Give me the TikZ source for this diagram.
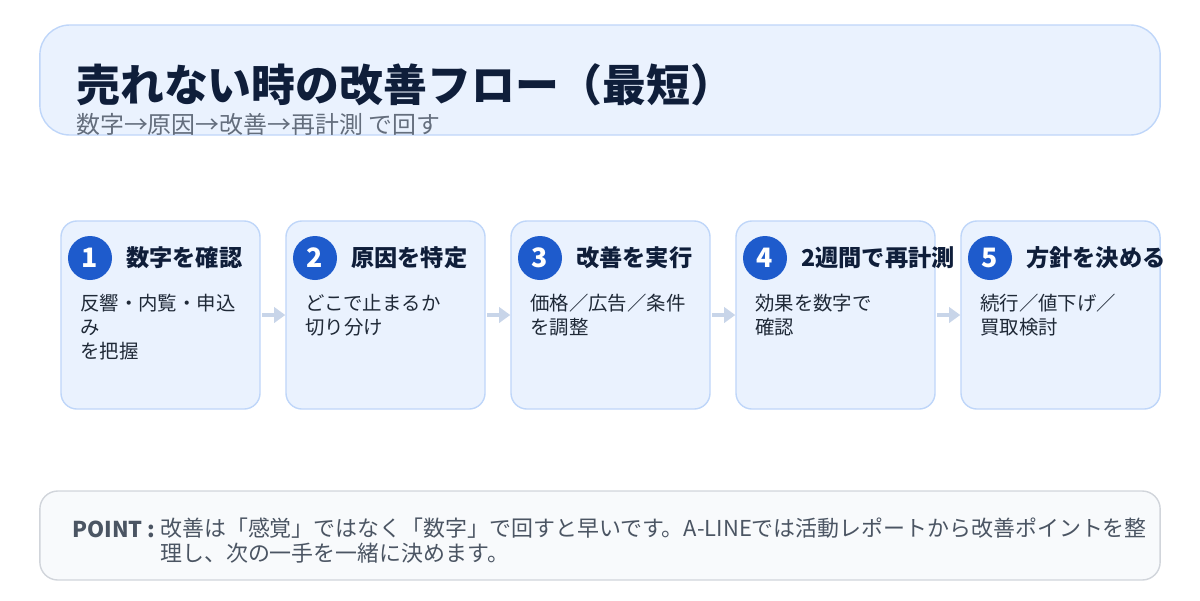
\documentclass[tikz,border=0pt]{standalone}
\usepackage{fontspec}
\setmainfont{Noto Sans CJK JP}
\usetikzlibrary{arrows.meta}

\definecolor{boxfill}{RGB}{234,242,254}
\definecolor{boxline}{RGB}{191,214,249}
\definecolor{dotblue}{RGB}{30,91,204}
\definecolor{navy}{RGB}{15,30,58}
\definecolor{bodytext}{RGB}{31,41,55}
\definecolor{subgray}{RGB}{100,110,125}
\definecolor{arrowgray}{RGB}{200,213,233}
\definecolor{notefill}{RGB}{248,250,252}
\definecolor{noteline}{RGB}{209,213,219}
\definecolor{pointgray}{RGB}{75,85,99}

\begin{document}
\begin{tikzpicture}[x=0.025cm, y=-0.025cm,
  headbox/.style={draw=boxline, fill=boxfill, line width=1pt, rounded corners=0.75cm,
    minimum width=28cm, minimum height=2.75cm},
  stepbox/.style={draw=boxline, fill=boxfill, line width=1pt, rounded corners=0.4cm,
    minimum width=4.975cm, minimum height=4.7cm},
  notebox/.style={draw=noteline, fill=notefill, line width=1pt, rounded corners=0.45cm,
    minimum width=28cm, minimum height=2.225cm},
  numdot/.style={circle, fill=dotblue, minimum size=1.1cm, inner sep=0pt,
    text=white, font=\fontsize{19}{19}\selectfont\bfseries},
  steptitle/.style={anchor=base west, inner sep=0pt, text=navy,
    font=\fontsize{16.5}{20}\selectfont\bfseries},
  stepbody/.style={anchor=north west, inner sep=0pt, align=left, text=bodytext,
    font=\fontsize{13.8}{17}\selectfont},
  flowarrow/.style={draw=arrowgray, line width=3pt,
    -{Triangle[length=8pt, width=11pt]}, shorten <=1pt}]

\useasboundingbox (0,0) rectangle (1200,600);

% header
\node[headbox] (head) at (600,80) {};
\node[anchor=base west, inner sep=0pt, text=navy, font=\fontsize{31.2}{36}\selectfont\bfseries]
  (title) at (76,101) {売れない時の改善フロー（最短）};
\node[anchor=base west, inner sep=0pt, text=subgray, font=\fontsize{17}{20}\selectfont]
  (subtitle) at (76,133) {数字→原因→改善→再計測 で回す};

% steps
\node[stepbox] (s1) at (160.5,315) {};
\node[stepbox] (s2) at (385.5,315) {};
\node[stepbox] (s3) at (610.5,315) {};
\node[stepbox] (s4) at (835.5,315) {};
\node[stepbox] (s5) at (1060.5,315) {};

\node[numdot] (n1) at (90,258) {\raisebox{-2pt}{1}};
\node[numdot] (n2) at (315,258) {\raisebox{-2pt}{2}};
\node[numdot] (n3) at (540,258) {\raisebox{-2pt}{3}};
\node[numdot] (n4) at (765,258) {\raisebox{-2pt}{4}};
\node[numdot] (n5) at (990,258) {\raisebox{-2pt}{5}};

\node[steptitle] (t1) at (126,266) {数字を確認};
\node[steptitle] (t2) at (351,266) {原因を特定};
\node[steptitle] (t3) at (576,266) {改善を実行};
\node[steptitle] (t4) at (801,266) {2週間で再計測};
\node[steptitle] (t5) at (1026,266) {方針を決める};

\node[stepbody] (b1) at (80,294) {反響・内覧・申込\\み\\を把握};
\node[stepbody] (b2) at (305,294) {どこで止まるか\\切り分け};
\node[stepbody] (b3) at (530,294) {価格／広告／条件\\を調整};
\node[stepbody] (b4) at (755,294) {効果を数字で\\確認};
\node[stepbody] (b5) at (980,294) {続行／値下げ／\\買取検討};

\draw[flowarrow] (s1.east) -- (s2.west);
\draw[flowarrow] (s2.east) -- (s3.west);
\draw[flowarrow] (s3.east) -- (s4.west);
\draw[flowarrow] (s4.east) -- (s5.west);

% point
\node[notebox] (note) at (600,535.5) {};
\node[anchor=base west, inner sep=0pt, text=pointgray, font=\fontsize{15.5}{18}\selectfont\bfseries]
  (pointlabel) at (72,537) {POINT :};
\node[anchor=north west, inner sep=0pt, align=left, text=pointgray, font=\fontsize{15.6}{17.3}\selectfont]
  (pointtext) at (160,518) {改善は「感覚」ではなく「数字」で回すと早いです。A-LINEでは活動レポートから改善ポイントを整\\理し、次の一手を一緒に決めます。};

\end{tikzpicture}
\end{document}
